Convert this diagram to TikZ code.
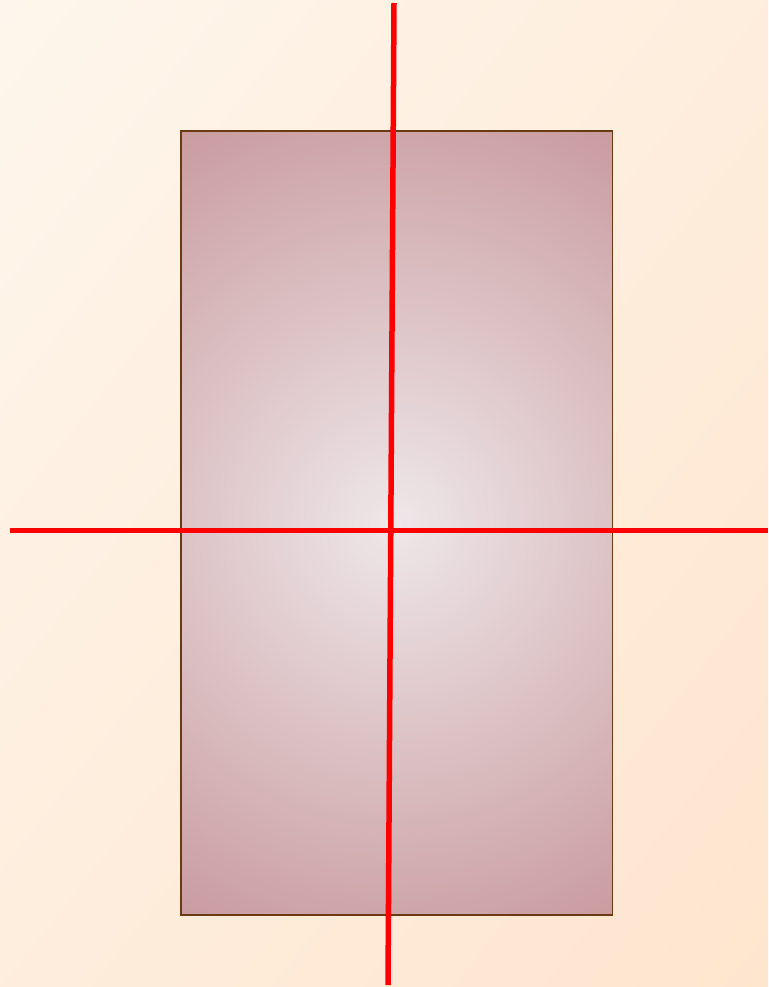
\documentclass[tikz,border=0pt]{standalone}
\usetikzlibrary{shadings}
\definecolor{bgA}{HTML}{FEF6EC}
\definecolor{bgB}{HTML}{FEE5CE}
\definecolor{boxIn}{HTML}{EEE7E9}
\definecolor{boxOut}{HTML}{C99B9F}
\definecolor{boxEdge}{HTML}{6B3A12}
\pgfdeclareradialshading{boxglow}{\pgfpoint{0bp}{0bp}}{color(0bp)=(boxIn); color(25bp)=(boxOut); color(50bp)=(boxOut)}
\tikzset{axisline/.style={draw=red,line width=5.5pt}}
\begin{document}
\begin{tikzpicture}[x=1pt,y=-1pt]
\useasboundingbox (0,0) rectangle (768,987);
\shade[upper left=bgA,lower right=bgB,upper right=bgA!50!bgB,lower left=bgA!50!bgB] (0,0) rectangle (768,987);
\begin{scope}
\clip (181,131) rectangle (612.5,915);
\shade[shading=boxglow] (396,523) ++(-450,-450) rectangle ++(900,900);
\end{scope}
\draw[draw=boxEdge,line width=1.8pt] (181,131) rectangle (612.5,915);
\coordinate (hl) at (10,530.5);
\coordinate (hr) at (768,530.5);
\coordinate (vt) at (394,3);
\coordinate (vb) at (388,985);
\draw[axisline] (hl) -- (hr);
\draw[axisline] (vt) -- (vb);
\end{tikzpicture}
\end{document}
